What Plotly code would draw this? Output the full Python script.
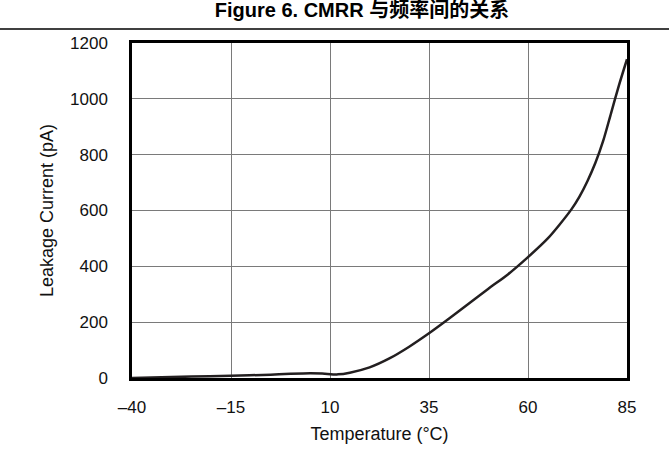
"""Leakage current vs temperature (Figure 6 recreation)."""

import plotly.graph_objects as go

temperature_c = [-40, -25, -15, -5, 0, 5, 8, 12, 15, 20, 25, 30, 35,
                 40, 45, 50, 55, 60, 65, 68, 71, 73, 75, 77, 79, 81, 83, 85]
leakage_pa = [0, 5, 8, 12, 15, 17, 16, 13, 19, 38, 70, 112, 160,
              212, 266, 320, 372, 433, 500, 550, 605, 650, 705, 770, 850, 950, 1050, 1142]

x_ticks = [-40, -15, 10, 35, 60, 85]
x_labels = ["–40", "–15", "10", "35", "60", "85"]
y_ticks = [0, 200, 400, 600, 800, 1000, 1200]

FONT = "Liberation Sans, Arial, Helvetica, Noto Sans CJK SC, sans-serif"

fig = go.Figure(
    go.Scatter(
        x=temperature_c,
        y=leakage_pa,
        mode="lines",
        line=dict(color="#231f20", width=2.5, shape="spline", smoothing=0.8),
        hoverinfo="skip",
    )
)

axis_common = dict(
    showgrid=True,
    gridcolor="#7a7a7a",
    gridwidth=1,
    showline=True,
    linecolor="black",
    linewidth=2.5,
    mirror=True,
    zeroline=False,
    ticks="",
    tickfont=dict(family=FONT, size=17, color="#111"),
    title_font=dict(family=FONT, size=18, color="#111"),
)

fig.update_xaxes(
    range=[-40, 85],
    tickvals=x_ticks,
    ticktext=x_labels,
    title_text="Temperature (°C)",
    title_standoff=12,
    ticklabelstandoff=12,
    **axis_common,
)
fig.update_yaxes(
    range=[0, 1200],
    tickvals=y_ticks,
    title_text="Leakage Current (pA)",
    title_standoff=12,
    ticklabelstandoff=18,
    **axis_common,
)

plot_w = 669 - 132 - 42
fig.add_shape(
    type="line",
    xref="paper",
    yref="paper",
    x0=-132 / plot_w,
    x1=(669 - 132) / plot_w,
    y0=(378 - 29) / 335,
    y1=(378 - 29) / 335,
    line=dict(color="black", width=1.5),
)

fig.update_layout(
    width=669,
    height=466,
    title=dict(
        text="<b>Figure 6. CMRR 与频率间的关系</b>",
        x=362 / 669,
        xanchor="center",
        y=1 - 10 / 466,
        yanchor="middle",
        font=dict(family=FONT, size=20, color="black"),
    ),
    showlegend=False,
    paper_bgcolor="white",
    plot_bgcolor="white",
    margin=dict(l=132, r=42, t=43, b=88),
)

# drop the default 8px body margin so the figure sits at the page origin
fig.write_html(
    "out.html",
    config={"displayModeBar": False},
    post_script="document.body.style.margin='0';",
)
